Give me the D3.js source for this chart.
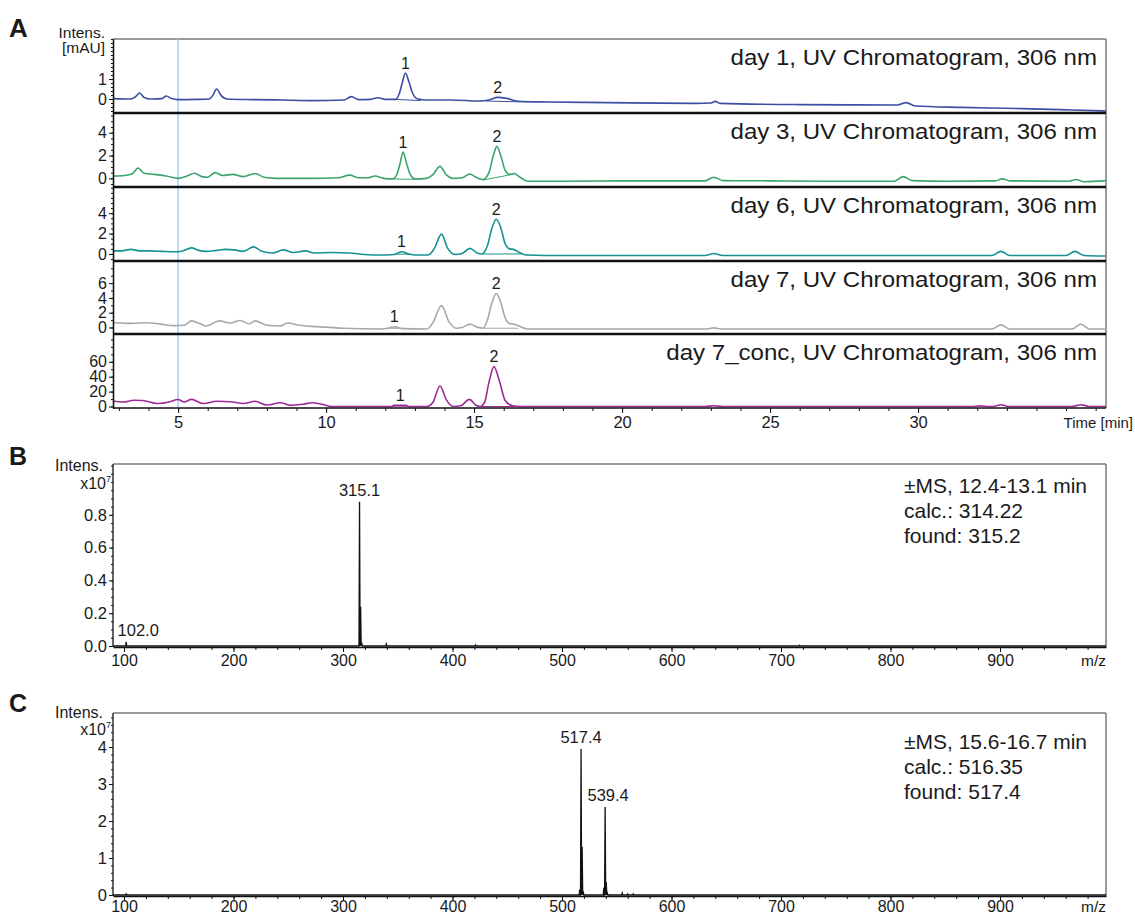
<!DOCTYPE html>
<html>
<head>
<meta charset="utf-8">
<script src="https://cdn.jsdelivr.net/npm/d3@7"></script>
<style>
body { margin: 0; background: #fff; }
text { font-family: "Liberation Sans", Arial, sans-serif; fill: #1a1a1a; }
</style>
</head>
<body>
<svg id="mainChart" width="1135" height="916"></svg>
<script>
// ---- panel A : UV chromatograms, [time (min), intensity (mAU)] ----
var day1 = [[2.8,0.02],[3.4,0.0],[3.55,0.1],[3.7,0.3],[3.85,0.08],[4.1,0.0],[4.45,0.02],[4.6,0.15],[4.78,0.02],[5.0,-0.03],
  [5.6,-0.02],[6.05,0.0],[6.18,0.2],[6.3,0.5],[6.45,0.18],[6.65,0.0],[7.5,-0.03],[8.5,-0.05],[9.5,-0.08],[10.6,-0.05],
  [10.85,0.12],[11.1,-0.03],[11.5,-0.02],[11.75,0.06],[12.0,-0.02],[12.35,-0.02],[12.48,0.3],[12.58,0.85],[12.68,1.3],
  [12.8,0.85],[12.92,0.3],[13.1,0.0],[13.4,-0.05],[14.2,-0.05],[15.2,-0.1],[15.5,-0.05],[15.8,0.08],[16.1,0.03],
  [16.5,-0.12],[17.5,-0.15],[19.5,-0.18],[22.5,-0.22],[23.0,-0.2],[23.15,-0.12],[23.3,-0.22],[26,-0.28],[29.3,-0.3],
  [29.6,-0.18],[29.9,-0.35],[31.5,-0.42],[33.5,-0.48],[35.2,-0.55],[36.35,-0.6]];

var day3 = [[2.8,0.2],[3.2,0.25],[3.45,0.4],[3.65,0.9],[3.85,0.45],[4.2,0.35],[4.6,0.2],[5.0,0.0],[5.3,0.2],[5.55,0.45],
  [5.8,0.15],[6.0,0.1],[6.25,0.5],[6.5,0.25],[6.85,0.35],[7.2,0.15],[7.6,0.43],[7.9,0.1],[8.3,0.0],[9.1,0.0],[9.5,0.0],
  [10.4,0.05],[10.8,0.28],[11.1,0.05],[11.4,0.05],[11.65,0.2],[11.95,0.0],[12.25,-0.05],[12.4,0.4],[12.5,1.3],[12.6,2.3],
  [12.72,1.3],[12.85,0.3],[13.0,-0.05],[13.4,0.0],[13.6,0.3],[13.85,1.05],[14.05,0.35],[14.3,0.0],[14.6,0.05],[14.85,0.38],
  [15.1,0.05],[15.3,-0.1],[15.5,0.5],[15.65,2.0],[15.77,2.8],[15.9,2.0],[16.05,0.7],[16.2,0.35],[16.35,0.42],[16.55,0.1],
  [16.8,-0.25],[18,-0.25],[20,-0.22],[22.8,-0.22],[23.1,0.1],[23.4,-0.2],[25,-0.22],[27,-0.25],[29.2,-0.25],[29.5,0.15],
  [29.8,-0.2],[31,-0.25],[32.6,-0.22],[32.85,-0.05],[33.1,-0.22],[35.1,-0.25],[35.35,-0.1],[35.6,-0.3],[36.35,-0.2]];

var day6 = [[2.8,0.3],[3.1,0.3],[3.4,0.45],[3.7,0.3],[4.05,0.3],[4.5,0.25],[5.0,0.22],[5.25,0.4],[5.45,0.6],[5.7,0.35],
  [5.95,0.25],[6.3,0.35],[6.6,0.45],[6.9,0.4],[7.2,0.25],[7.55,0.7],[7.8,0.3],[8.2,0.1],[8.55,0.4],[8.9,0.15],[9.3,0.3],
  [9.6,0.1],[10.2,0.15],[10.8,0.1],[11.3,-0.05],[11.8,-0.1],[12.3,-0.05],[12.55,0.22],[12.8,0.0],[13.0,-0.1],[13.45,-0.1],
  [13.65,0.5],[13.9,1.95],[14.1,0.6],[14.35,-0.05],[14.6,0.05],[14.86,0.55],[15.1,0.1],[15.25,0.0],[15.45,0.8],[15.6,2.5],
  [15.75,3.4],[15.9,2.6],[16.05,1.0],[16.2,0.5],[16.33,0.45],[16.5,0.2],[16.75,-0.1],[18,-0.15],[22.8,-0.15],[23.1,0.05],
  [23.4,-0.15],[28,-0.15],[32.5,-0.15],[32.8,0.25],[33.1,-0.15],[35.0,-0.15],[35.3,0.25],[35.6,-0.15],[36.35,-0.2]];

var day7 = [[2.8,0.65],[3.1,0.6],[3.4,0.55],[3.95,0.65],[4.4,0.45],[4.85,0.25],[5.2,0.3],[5.45,0.9],[5.75,0.5],[5.95,0.2],
  [6.4,0.9],[6.75,0.6],[7.1,0.95],[7.4,0.5],[7.6,0.9],[8.0,0.3],[8.45,0.2],[8.7,0.6],[9.1,0.3],[9.5,0.15],[10,0.05],
  [10.6,-0.1],[11.8,-0.2],[12.1,-0.1],[12.3,0.1],[12.6,-0.15],[13.4,-0.2],[13.6,0.6],[13.9,2.95],[14.15,0.8],[14.4,-0.1],
  [14.6,0.0],[14.86,0.45],[15.1,0.05],[15.3,-0.1],[15.45,1.0],[15.6,3.3],[15.75,4.6],[15.9,3.4],[16.05,1.3],[16.2,0.55],
  [16.35,0.45],[16.55,0.15],[16.8,-0.2],[18,-0.2],[22.8,-0.2],[23.1,-0.05],[23.4,-0.2],[28,-0.2],[32.5,-0.2],[32.8,0.35],
  [33.1,-0.2],[35.2,-0.2],[35.5,0.45],[35.8,-0.2],[36.35,-0.2]];

var day7conc = [[2.8,7],[3.15,6],[3.5,8.3],[3.8,8],[4.3,4],[4.7,6],[5.0,9.5],[5.2,6],[5.45,9.6],[5.85,4],[6.3,7],[6.85,6],
  [7.2,4],[7.6,7],[8.0,2],[8.45,5],[8.8,1.5],[9.2,3],[9.55,5],[9.85,3],[10.2,0],[11,0],[12.2,0],[12.3,1.5],[12.7,1.5],
  [12.8,0],[13.4,0],[13.6,5],[13.85,27.5],[14.05,10],[14.3,0],[14.55,1],[14.84,9.6],[15.05,2],[15.2,0],[15.35,5],
  [15.5,32],[15.67,53.5],[15.85,35],[16.05,8],[16.3,1],[16.6,0],[22.8,0],[23.1,1],[23.4,0],[31.8,0],[32.1,0.8],[32.4,0],
  [32.55,0],[32.8,2.4],[33.05,0],[35.2,0],[35.5,2.4],[35.8,0],[36.35,0]];

var traces = [day1, day3, day6, day7, day7conc];
var traceNames = ["day 1, UV Chromatogram, 306 nm", "day 3, UV Chromatogram, 306 nm", "day 6, UV Chromatogram, 306 nm",
  "day 7, UV Chromatogram, 306 nm", "day 7_conc, UV Chromatogram, 306 nm"];
var traceYDomains = [[-0.7, 3.0], [-0.76, 5.73], [-0.69, 6.57], [-0.88, 8.99], [-2.0, 97.3]];
var traceYTicks = [[0, 1], [0, 2, 4], [0, 2, 4], [0, 2, 4, 6], [0, 20, 40, 60]];
var traceYMinor = [0.2, 0.5, 0.5, 1, 10];
// peak numbers: [time, intensity, label]
var peakMarks = [
  [[12.68, 1.3, "1"], [15.8, 0.08, "2"]],
  [[12.6, 2.3, "1"], [15.77, 2.8, "2"]],
  [[12.55, 0.22, "1"], [15.75, 3.4, "2"]],
  [[12.3, 0.1, "1"], [15.75, 4.6, "2"]],
  [[12.5, 1.5, "1"], [15.67, 53.5, "2"]]
];
// integration baselines under the numbered peaks
var peakBaselines = [
  [[[12.35, -0.02], [13.2, -0.08]], [[15.4, -0.1], [16.5, -0.14]]],
  [[[12.28, -0.06], [12.98, -0.08]], [[15.3, -0.15], [16.3, 0.35]]],
  [[[12.3, -0.02], [12.85, -0.02]], [[15.3, 0.0], [16.6, 0.0]]],
  [[[12.1, -0.1], [12.6, -0.12]], [[15.3, -0.1], [16.5, -0.1]]],
  [[[12.25, 0.5], [12.75, 0.5]], [[15.25, 0], [16.4, 0]]]
];
var timeTicks = [5, 10, 15, 20, 25, 30];
var markerTime = 5;

// ---- panels B and C : mass spectra, [m/z, intensity x10^7] ----
var msB = [[102.0, 0.025], [315.1, 0.88], [316.1, 0.24], [317.1, 0.02], [339.5, 0.012], [421, 0.006], [717, 0.004]];
var msC = [[102.0, 0.03], [516.2, 0.15], [517.4, 3.95], [518.4, 1.3], [519.4, 0.1], [538.2, 0.2], [539.4, 2.38],
  [540.4, 0.35], [541.4, 0.05], [555, 0.05], [560, 0.03], [565, 0.03]];
var msBLabels = [[315.1, 0.88, "315.1"], [102.0, 0.025, "102.0"]];
var msCLabels = [[517.4, 3.95, "517.4"], [539.4, 2.38, "539.4"]];
var msBText = ["\u00b1MS, 12.4-13.1 min", "calc.: 314.22", "found: 315.2"];
var msCText = ["\u00b1MS, 15.6-16.7 min", "calc.: 516.35", "found: 517.4"];
var mzTicks = [100, 200, 300, 400, 500, 600, 700, 800, 900];
var msBYTicks = [0, 0.2, 0.4, 0.6, 0.8];
var msCYTicks = [0, 1, 2, 3, 4];

var traceColors = ["#3b4ea1", "#3aa46c", "#15928f", "#a8a8a8", "#9c2b98"];

var svg = d3.select("svg#mainChart");
var plotLeft = 113, plotRight = 1106;
var textStretch = 1.12;   // source figure text is slightly wide

function minorTicks(domain, step) {
  var lo = Math.ceil(domain[0] / step) * step;
  return d3.range(lo, domain[1] + 1e-9, step);
}

function styleAxis(g) {
  g.selectAll("path.domain").attr("stroke", "#111").attr("stroke-width", 1.3);
  g.selectAll(".tick line").attr("stroke", "#111");
  g.selectAll(".tick text").attr("fill", "#1a1a1a").style("font-family", "Liberation Sans, Arial, sans-serif");
}

// ================= panel A =================
var xTime = d3.scaleLinear().domain([2.8, 36.35]).range([plotLeft, plotRight]);
var panelTops = [39, 113, 187, 261, 334];
var panelBottoms = [113, 187, 261, 334, 408];

svg.append("text").attr("x", 9).attr("y", 37).style("font-size", "26px").style("font-weight", "bold").text("A");
svg.append("text").attr("x", 105).attr("y", 38).attr("text-anchor", "end").style("font-size", "15.5px").text("Intens.");
svg.append("text").attr("x", 105).attr("y", 53).attr("text-anchor", "end").style("font-size", "15.5px").text("[mAU]");

// frame
svg.append("line").attr("x1", plotLeft).attr("x2", plotRight).attr("y1", panelTops[0]).attr("y2", panelTops[0])
   .attr("stroke", "#7a7a7a").attr("stroke-width", 1.5);
svg.append("line").attr("x1", plotRight).attr("x2", plotRight).attr("y1", panelTops[0]).attr("y2", 408)
   .attr("stroke", "#7a7a7a").attr("stroke-width", 1.5);

// 5 min marker
svg.append("line").attr("x1", xTime(markerTime)).attr("x2", xTime(markerTime)).attr("y1", panelTops[0]).attr("y2", 407)
   .attr("stroke", "#a9ccee").attr("stroke-width", 1.5);

traces.forEach(function(trace, i) {
  var y = d3.scaleLinear().domain(traceYDomains[i]).range([panelBottoms[i], panelTops[i]]);
  var g = svg.append("g").attr("class", "panelA");

  var line = d3.line().x(function(d) { return xTime(d[0]); }).y(function(d) { return y(d[1]); })
               .curve(d3.curveMonotoneX);

  peakBaselines[i].forEach(function(seg) {
    g.append("path").attr("d", d3.line().x(function(d) { return xTime(d[0]); }).y(function(d) { return y(d[1]); })(seg))
     .attr("fill", "none").attr("stroke", traceColors[i]).attr("stroke-width", 1);
  });

  g.append("path").datum(trace).attr("d", line).attr("fill", "none")
   .attr("stroke", traceColors[i]).attr("stroke-width", 1.6).attr("stroke-linejoin", "round");

  g.selectAll("text.peak").data(peakMarks[i]).enter().append("text").attr("class", "peak")
   .attr("x", function(d) { return xTime(d[0]); })
   .attr("y", function(d) { return y(d[1]) - 4.5; })
   .attr("text-anchor", "middle").style("font-size", "16px")
   .text(function(d) { return d[2]; });

  g.append("text").attr("text-anchor", "end").style("font-size", "21.5px")
   .attr("transform", "translate(1097," + (panelTops[i] + 26) + ") scale(" + textStretch + ",1)")
   .text(traceNames[i]);

  // y axis
  var ax = g.append("g").attr("transform", "translate(" + plotLeft + ",0)")
    .call(d3.axisLeft(y).tickValues(traceYTicks[i]).tickSize(4).tickSizeOuter(0).tickPadding(2).tickFormat(d3.format("d")));
  ax.selectAll(".tick text").style("font-size", "16px");
  styleAxis(ax);
  var axm = g.append("g").attr("transform", "translate(" + plotLeft + ",0)")
    .call(d3.axisLeft(y).tickValues(minorTicks(traceYDomains[i], traceYMinor[i])).tickSize(2).tickSizeOuter(0).tickFormat(""));
  styleAxis(axm);

  // separator / bottom axis line
  g.append("line").attr("x1", plotLeft).attr("x2", plotRight).attr("y1", panelBottoms[i]).attr("y2", panelBottoms[i])
   .attr("stroke", "#111").attr("stroke-width", i < 4 ? 2.6 : 1.6);
});

var xAxisA = svg.append("g").attr("transform", "translate(0,408)")
  .call(d3.axisBottom(xTime).tickValues(timeTicks).tickSize(5).tickSizeOuter(0).tickPadding(3));
xAxisA.selectAll(".tick text").style("font-size", "16.5px");
styleAxis(xAxisA);
xAxisA.select("path.domain").remove();
var xAxisAm = svg.append("g").attr("transform", "translate(0,408)")
  .call(d3.axisBottom(xTime).tickValues(minorTicks([3, 36], 1)).tickSize(3).tickSizeOuter(0).tickFormat(""));
styleAxis(xAxisAm);
xAxisAm.select("path.domain").remove();
svg.append("text").attr("x", 1133).attr("y", 428).attr("text-anchor", "end").style("font-size", "15px").text("Time [min]");

// ================= panels B and C =================
var xMz = d3.scaleLinear().domain([89.95, 996.8]).range([plotLeft, plotRight]);

function drawSpectrum(opt) {
  var y = d3.scaleLinear().domain(opt.yDomain).range([opt.zeroY, opt.top]);
  var g = svg.append("g");

  g.append("text").attr("x", 9).attr("y", opt.letterY).style("font-size", "25px").style("font-weight", "bold").text(opt.letter);

  g.append("line").attr("x1", plotLeft).attr("x2", plotRight).attr("y1", opt.top).attr("y2", opt.top)
   .attr("stroke", "#7a7a7a").attr("stroke-width", 1.5);
  g.append("line").attr("x1", plotRight).attr("x2", plotRight).attr("y1", opt.top).attr("y2", opt.axisY)
   .attr("stroke", "#7a7a7a").attr("stroke-width", 1.5);

  // stick spectrum
  var pts = [[xMz.domain()[0], 0]];
  opt.peaks.forEach(function(p) { pts.push([p[0] - 0.5, 0], [p[0], p[1]], [p[0] + 0.5, 0]); });
  pts.push([xMz.domain()[1], 0]);
  g.append("path").attr("d", d3.line().x(function(d) { return xMz(d[0]); }).y(function(d) { return y(d[1]); })(pts))
   .attr("fill", "none").attr("stroke", "#111").attr("stroke-width", 1.3);

  g.selectAll("text.lab").data(opt.labels).enter().append("text").attr("class", "lab")
   .attr("x", function(d, i) { return xMz(d[0]) + (opt.labelShift[i] || 0); })
   .attr("y", function(d) { return y(d[1]) - 6; })
   .attr("text-anchor", "middle").style("font-size", "16.5px")
   .text(function(d) { return d[2]; });

  g.selectAll("text.note").data(opt.notes).enter().append("text").attr("class", "note")
   .attr("transform", function(d, i) { return "translate(904," + (opt.noteY + i * 25) + ") scale(1.05,1)"; })
   .style("font-size", "20px").text(function(d) { return d; });

  var ay = g.append("g").attr("transform", "translate(" + plotLeft + ",0)")
    .call(d3.axisLeft(y).tickValues(opt.yTicks).tickSize(4).tickSizeOuter(0).tickPadding(2).tickFormat(opt.yFormat));
  ay.selectAll(".tick text").style("font-size", "16.5px");
  styleAxis(ay);
  ay.select("path.domain").attr("d", "M0," + opt.axisY + "V" + opt.top);
  var aym = g.append("g").attr("transform", "translate(" + plotLeft + ",0)")
    .call(d3.axisLeft(y).tickValues(minorTicks([0, opt.yDomain[1]], opt.yMinor)).tickSize(2).tickSizeOuter(0).tickFormat(""));
  styleAxis(aym);
  aym.select("path.domain").remove();

  var ax = g.append("g").attr("transform", "translate(0," + opt.axisY + ")")
    .call(d3.axisBottom(xMz).tickValues(mzTicks).tickSize(5).tickSizeOuter(0).tickPadding(opt.xPad));
  ax.selectAll(".tick text").style("font-size", "16px");
  styleAxis(ax);
  var axm = g.append("g").attr("transform", "translate(0," + opt.axisY + ")")
    .call(d3.axisBottom(xMz).tickValues(minorTicks([100, 990], 20)).tickSize(3).tickSizeOuter(0).tickFormat(""));
  styleAxis(axm);
  axm.select("path.domain").remove();

  g.append("text").attr("x", 1106).attr("y", opt.axisY + opt.mzDy).attr("text-anchor", "end").style("font-size", "15.5px").text("m/z");

  g.append("text").attr("x", 103).attr("y", opt.intensY).attr("text-anchor", "end").style("font-size", "16px").text("Intens.");
  var xt = g.append("text").attr("x", 111).attr("y", opt.expY).attr("text-anchor", "end").style("font-size", "16px");
  xt.append("tspan").text("x10");
  xt.append("tspan").attr("dy", -7).style("font-size", "9px").text("7");
}

drawSpectrum({
  letter: "B", letterY: 465, top: 464, axisY: 647, zeroY: 646, yDomain: [0, 1.11], yTicks: msBYTicks, yMinor: 0.05,
  yFormat: d3.format(".1f"), peaks: msB, labels: msBLabels, labelShift: [0, 12], notes: msBText, noteY: 493,
  intensY: 471, expY: 489, xPad: 3, mzDy: 19
});
drawSpectrum({
  letter: "C", letterY: 712, top: 713, axisY: 896, zeroY: 895, yDomain: [0, 4.92], yTicks: msCYTicks, yMinor: 0.2,
  yFormat: d3.format("d"), peaks: msC, labels: msCLabels, labelShift: [0, 3], notes: msCText, noteY: 749,
  intensY: 718, expY: 735, xPad: 0, mzDy: 16
});
</script>
</body>
</html>
